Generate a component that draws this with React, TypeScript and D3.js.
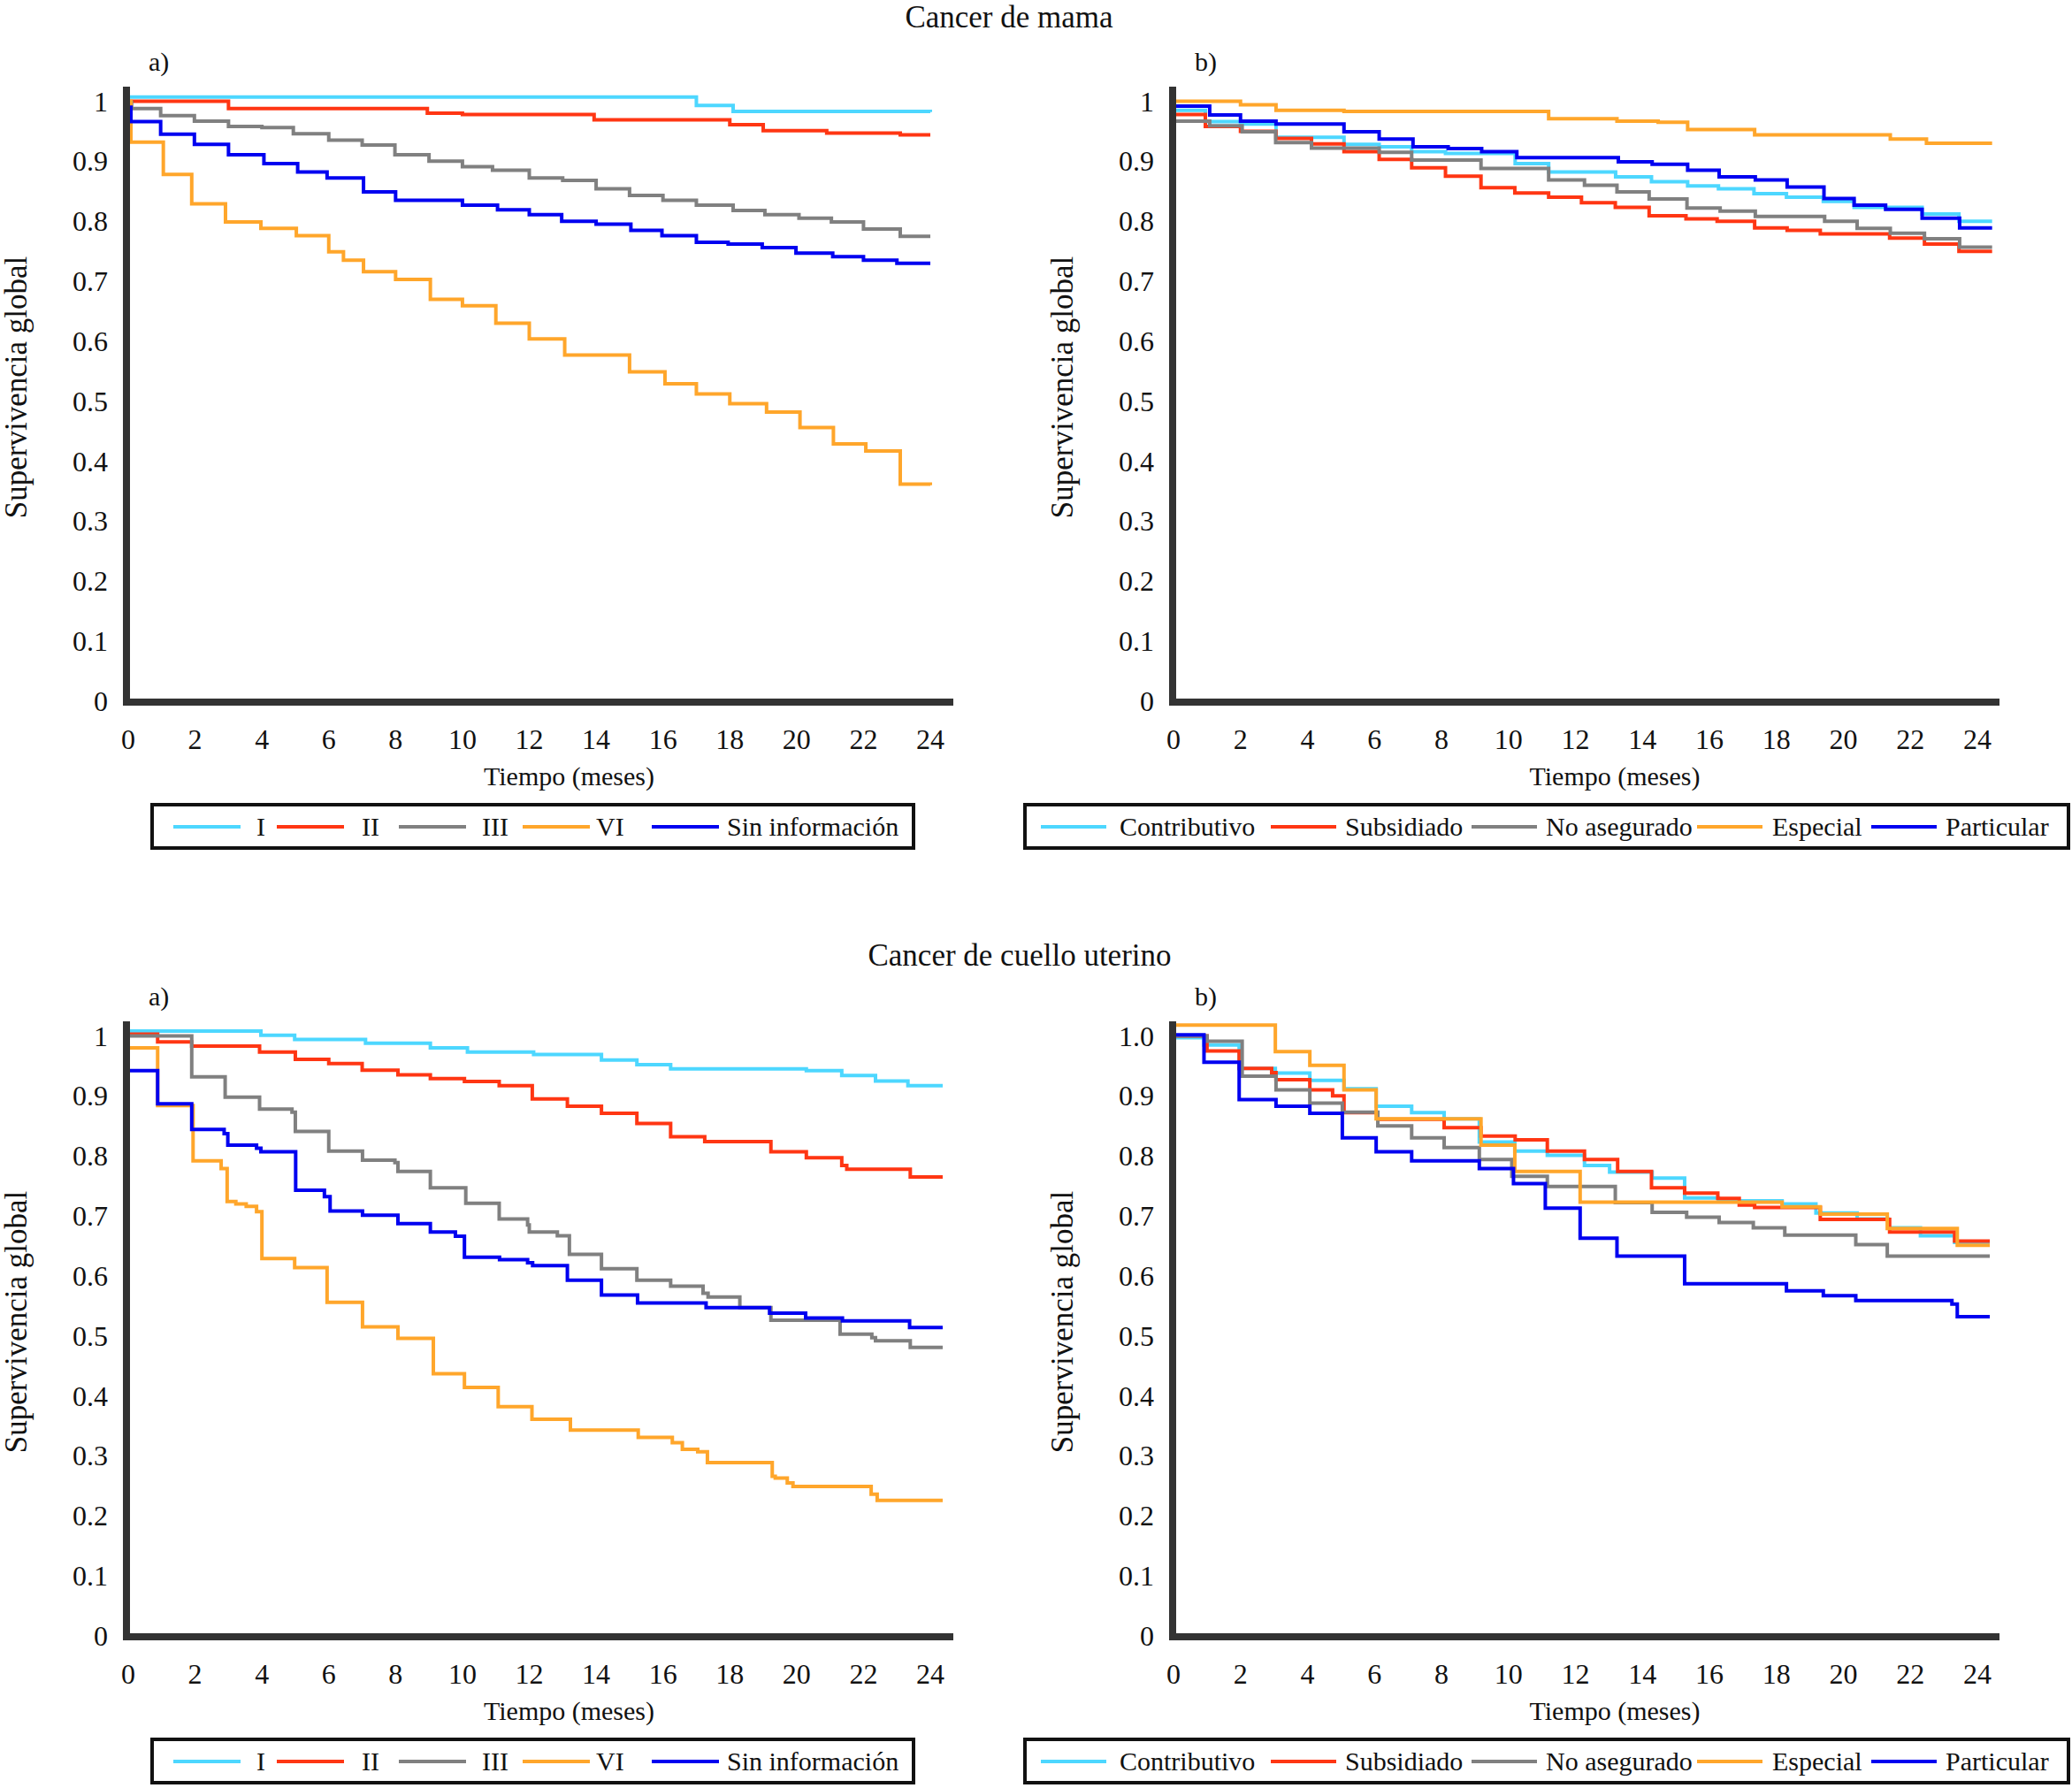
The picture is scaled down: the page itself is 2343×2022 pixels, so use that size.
import * as d3 from 'd3'

type Pt = [number, number]

// eje x (meses) y eje y (supervivencia)
const monthTicks = [0, 2, 4, 6, 8, 10, 12, 14, 16, 18, 20, 22, 24]
const survivalTicks = [0, 0.1, 0.2, 0.3, 0.4, 0.5, 0.6, 0.7, 0.8, 0.9, 1]
const survivalLabelsA = ['0', '0.1', '0.2', '0.3', '0.4', '0.5', '0.6', '0.7', '0.8', '0.9', '1']
const survivalLabelsB = ['0', '0.1', '0.2', '0.3', '0.4', '0.5', '0.6', '0.7', '0.8', '0.9', '1.0']

const estadioNames = ['I', 'II', 'III', 'VI', 'Sin información']
const regimenNames = ['Contributivo', 'Subsidiado', 'No asegurado', 'Especial', 'Particular']
const seriesColors = ['#4dd7ff', '#ff3613', '#808080', '#ffa62b', '#0000f0']

// Cancer de mama, a) estadio
const mamaI: Pt[] = [[0, 1.007], [17, 0.993], [18.1, 0.983], [24, 0.982]]
const mamaII: Pt[] = [[0, 1.0], [3, 0.988], [8.95, 0.98], [10, 0.978], [13.94, 0.969], [18, 0.961], [19, 0.951], [20.9, 0.947], [23.1, 0.944], [24, 0.944]]
const mamaIII: Pt[] = [[0, 0.998], [0.1, 0.988], [0.97, 0.976], [1.98, 0.967], [3, 0.958], [4, 0.956], [4.94, 0.946], [6, 0.935], [7, 0.927], [7.98, 0.911], [9, 0.9], [10, 0.891], [10.9, 0.885], [12, 0.872], [13, 0.868], [14, 0.854], [15, 0.843], [16, 0.835], [17, 0.827], [18.1, 0.818], [19.05, 0.811], [20.07, 0.805], [21.04, 0.799], [22, 0.787], [23.1, 0.775], [24, 0.775]]
const mamaVI: Pt[] = [[0, 1], [0.08, 0.932], [1.05, 0.878], [1.9, 0.829], [2.91, 0.799], [3.97, 0.788], [5.03, 0.776], [6, 0.749], [6.44, 0.735], [7.04, 0.716], [8, 0.703], [9.04, 0.67], [10, 0.659], [11, 0.63], [12, 0.604], [13.06, 0.577], [15, 0.549], [16.06, 0.529], [17, 0.512], [18, 0.496], [19.1, 0.482], [20.1, 0.456], [21.1, 0.429], [22.07, 0.417], [23.1, 0.362], [24, 0.36]]
const mamaSin: Pt[] = [[0, 0.99], [0.08, 0.966], [0.97, 0.945], [1.98, 0.928], [3, 0.911], [4.06, 0.896], [5.07, 0.882], [5.95, 0.872], [7.04, 0.849], [8, 0.835], [10, 0.827], [11.05, 0.819], [12, 0.811], [12.97, 0.8], [14, 0.795], [15.04, 0.785], [15.97, 0.776], [17, 0.765], [17.95, 0.762], [18.97, 0.756], [19.98, 0.747], [21.08, 0.741], [22, 0.735], [23, 0.73], [24, 0.73]]

// Cancer de mama, b) regimen
const mamaContrib: Pt[] = [[0, 0.985], [0.95, 0.966], [2, 0.962], [3.06, 0.94], [5.09, 0.928], [6.14, 0.924], [7.11, 0.916], [8.12, 0.913], [10.2, 0.896], [11.2, 0.882], [13.2, 0.874], [14.27, 0.866], [15.35, 0.859], [16.27, 0.854], [17.33, 0.846], [18.3, 0.84], [19.4, 0.833], [20.32, 0.823], [22.35, 0.812], [23.45, 0.8], [24.44, 0.8]]
const mamaSubs: Pt[] = [[0, 0.978], [0.95, 0.958], [2, 0.95], [3.06, 0.938], [4.12, 0.929], [5.09, 0.916], [6.14, 0.903], [7.11, 0.889], [8.12, 0.875], [9.18, 0.856], [10.19, 0.847], [11.2, 0.84], [12.18, 0.831], [13.19, 0.823], [14.2, 0.809], [15.3, 0.804], [16.23, 0.8], [17.35, 0.789], [18.32, 0.785], [19.31, 0.779], [21.38, 0.772], [22.42, 0.762], [23.45, 0.75], [24.44, 0.75]]
const mamaNoAseg: Pt[] = [[0, 0.967], [1.08, 0.959], [2.05, 0.949], [3.05, 0.931], [4.12, 0.922], [6.14, 0.915], [7.11, 0.902], [9.18, 0.888], [11.2, 0.869], [12.27, 0.86], [13.24, 0.849], [14.2, 0.837], [15.33, 0.822], [16.32, 0.817], [17.37, 0.808], [19.44, 0.8], [20.41, 0.788], [21.4, 0.78], [22.42, 0.771], [23.47, 0.757], [24.44, 0.757]]
const mamaEsp: Pt[] = [[0, 1.0], [2, 0.994], [3.06, 0.985], [5.09, 0.983], [11.2, 0.971], [13.24, 0.967], [14.47, 0.965], [15.35, 0.953], [17.35, 0.944], [21.4, 0.937], [22.48, 0.93], [24.44, 0.93]]
const mamaPart: Pt[] = [[0, 0.992], [1.08, 0.977], [2, 0.967], [3.06, 0.962], [5.09, 0.949], [6.14, 0.937], [7.15, 0.924], [8.2, 0.921], [9.2, 0.916], [10.25, 0.906], [13.28, 0.899], [14.29, 0.895], [15.35, 0.885], [16.29, 0.874], [17.37, 0.869], [18.32, 0.857], [19.42, 0.838], [20.32, 0.827], [21.26, 0.82], [22.35, 0.805], [23.47, 0.789], [24.44, 0.789]]

// Cancer de cuello uterino, a) estadio
const cuelloI: Pt[] = [[0, 1.008], [3.97, 1.001], [4.98, 0.994], [7.1, 0.988], [9.04, 0.98], [10.15, 0.973], [12.13, 0.969], [14.16, 0.96], [15.22, 0.952], [16.23, 0.945], [20.29, 0.942], [21.35, 0.934], [22.36, 0.925], [23.33, 0.917], [24.37, 0.917]]
const cuelloII: Pt[] = [[0, 1.003], [0.88, 0.99], [1.9, 0.983], [3.93, 0.973], [5, 0.961], [6, 0.954], [7, 0.943], [8.07, 0.935], [9.04, 0.929], [10.06, 0.924], [11.1, 0.917], [12.09, 0.895], [13.14, 0.883], [14.16, 0.871], [15.22, 0.854], [16.23, 0.832], [17.25, 0.824], [19.23, 0.807], [20.29, 0.797], [21.35, 0.784], [21.5, 0.778], [23.4, 0.765], [24.37, 0.765]]
const cuelloIII: Pt[] = [[0, 1.0], [1.9, 0.932], [2.9, 0.898], [3.93, 0.878], [4.9, 0.873], [5.0, 0.841], [6, 0.808], [7.01, 0.793], [7.98, 0.789], [8.07, 0.774], [9.04, 0.747], [10.1, 0.721], [11.1, 0.695], [11.95, 0.685], [12.0, 0.673], [12.84, 0.667], [13.2, 0.636], [14.16, 0.612], [15.22, 0.593], [16.23, 0.583], [17.2, 0.571], [17.35, 0.565], [18.3, 0.547], [19.23, 0.526], [21.3, 0.503], [22.25, 0.497], [22.36, 0.492], [23.4, 0.481], [24.37, 0.481]]
const cuelloVI: Pt[] = [[0, 0.98], [0.88, 0.884], [1.94, 0.792], [2.78, 0.779], [2.96, 0.724], [3.22, 0.72], [3.53, 0.716], [3.84, 0.707], [4.0, 0.629], [4.98, 0.614], [5.95, 0.556], [7.01, 0.515], [8.07, 0.496], [9.13, 0.437], [10.06, 0.414], [11.07, 0.382], [12.08, 0.361], [13.23, 0.343], [15.26, 0.331], [16.28, 0.322], [16.58, 0.311], [17.04, 0.307], [17.33, 0.289], [19.27, 0.266], [19.36, 0.263], [19.72, 0.255], [19.89, 0.249], [22.23, 0.236], [22.41, 0.226], [24.37, 0.226]]
const cuelloSin: Pt[] = [[0, 0.942], [0.88, 0.887], [1.9, 0.844], [2.87, 0.837], [2.98, 0.818], [3.84, 0.813], [3.97, 0.807], [5.01, 0.743], [5.87, 0.732], [6.04, 0.708], [7.01, 0.701], [8.07, 0.687], [9.04, 0.673], [9.79, 0.666], [10.06, 0.631], [11.11, 0.627], [11.95, 0.622], [12.1, 0.617], [13.14, 0.593], [14.16, 0.568], [15.24, 0.555], [17.29, 0.547], [19.19, 0.538], [20.27, 0.53], [21.37, 0.525], [23.38, 0.514], [24.37, 0.514]]

// Cancer de cuello uterino, b) regimen
const cuelloContrib: Pt[] = [[0, 0.997], [0.91, 0.985], [1.96, 0.946], [3.04, 0.938], [4.07, 0.926], [5.09, 0.912], [6.05, 0.883], [7.11, 0.872], [8.08, 0.862], [9.13, 0.823], [10.19, 0.808], [11.16, 0.801], [12.27, 0.784], [13.02, 0.773], [14.29, 0.763], [15.26, 0.73], [16.27, 0.725], [18.17, 0.72], [19.18, 0.705], [20.41, 0.695], [21.34, 0.68], [22.3, 0.667], [23.32, 0.656], [24.37, 0.656]]
const cuelloSubs: Pt[] = [[0, 1.0], [1.0, 0.975], [1.96, 0.946], [2.93, 0.939], [3.06, 0.927], [4.07, 0.91], [4.75, 0.9], [5.09, 0.872], [6.1, 0.861], [8.08, 0.847], [9.18, 0.833], [10.2, 0.827], [11.16, 0.808], [12.27, 0.794], [13.26, 0.774], [14.27, 0.747], [15.26, 0.738], [16.25, 0.729], [16.89, 0.718], [17.35, 0.714], [19.31, 0.694], [21.38, 0.673], [23.32, 0.658], [24.37, 0.658]]
const cuelloNoAseg: Pt[] = [[0, 1.0], [1.0, 0.991], [2.05, 0.933], [3.06, 0.91], [4.07, 0.888], [5.04, 0.873], [6.1, 0.85], [7.11, 0.83], [8.08, 0.814], [9.13, 0.794], [10.1, 0.766], [11.16, 0.749], [13.19, 0.722], [14.29, 0.706], [15.32, 0.698], [16.29, 0.689], [17.31, 0.68], [18.25, 0.668], [20.37, 0.652], [21.31, 0.633], [24.37, 0.633]]
const cuelloEsp: Pt[] = [[0, 1.018], [3.04, 0.974], [4.07, 0.951], [5.09, 0.91], [6.05, 0.862], [9.18, 0.818], [10.19, 0.774], [12.14, 0.723], [18.17, 0.715], [19.31, 0.703], [21.31, 0.679], [23.4, 0.651], [24.37, 0.651]]
const cuelloPart: Pt[] = [[0, 1.002], [0.91, 0.956], [1.96, 0.894], [3.06, 0.883], [4.07, 0.871], [5.04, 0.83], [6.05, 0.807], [7.11, 0.792], [9.13, 0.779], [10.15, 0.754], [11.1, 0.713], [12.14, 0.663], [13.24, 0.633], [15.26, 0.587], [18.3, 0.575], [19.4, 0.567], [20.37, 0.559], [23.24, 0.553], [23.4, 0.532], [24.37, 0.532]]

const FONT = '"Liberation Serif", "Times New Roman", serif'

// posiciones de la leyenda: [inicio de linea, inicio de texto]
const legendLeft = { box: [172, 1033], items: [[196, 290], [313, 409], [451, 545], [591, 674], [737, 822]], len: 76 }
const legendRight = { box: [1159, 2339], items: [[1177, 1266], [1437, 1521], [1664, 1748], [1919, 2004], [2116, 2200]], len: 74 }

const leftGeom = { axisX: 143, x0: 145, x24: 1052, axisEnd: 1078, tag: 168, yTitleX: 30, legend: legendLeft }
const rightGeom = { axisX: 1326, x0: 1327, x24: 2236, axisEnd: 2261, tag: 1351, yTitleX: 1213, legend: legendRight }

const panels = [
  { key: 'ma', tag: 'a)', g: leftGeom, dy: 0, names: estadioNames, series: [mamaI, mamaII, mamaIII, mamaVI, mamaSin], yLabels: survivalLabelsA },
  { key: 'mb', tag: 'b)', g: rightGeom, dy: 0, names: regimenNames, series: [mamaContrib, mamaSubs, mamaNoAseg, mamaEsp, mamaPart], yLabels: survivalLabelsA },
  { key: 'ca', tag: 'a)', g: leftGeom, dy: 1057, names: estadioNames, series: [cuelloI, cuelloII, cuelloIII, cuelloVI, cuelloSin], yLabels: survivalLabelsA },
  { key: 'cb', tag: 'b)', g: rightGeom, dy: 1057, names: regimenNames, series: [cuelloContrib, cuelloSubs, cuelloNoAseg, cuelloEsp, cuelloPart], yLabels: survivalLabelsB },
]

function Panel({ p }: { p: (typeof panels)[number] }) {
  const { g, dy } = p
  const x = d3.scaleLinear().domain([0, 24]).range([g.x0, g.x24])
  const y = d3.scaleLinear().domain([0, 1]).range([dy + 793, dy + 114.5])
  const line = d3
    .line<Pt>()
    .x((d) => x(d[0]))
    .y((d) => y(d[1]))
    .curve(d3.curveStepAfter)
  const axisY = y(0) + 1
  const lg = g.legend
  const legTop = dy + 910
  return (
    <g>
      <text x={g.tag} y={dy + 80} fontSize={30}>{p.tag}</text>
      {p.series.map((s, i) => (
        <path key={i} d={line(s) || ''} fill="none" stroke={seriesColors[i]} strokeWidth={4} strokeLinejoin="miter" />
      ))}
      <line x1={g.axisX} x2={g.axisX} y1={dy + 98} y2={axisY + 4} stroke="#333" strokeWidth={8} />
      <line x1={g.axisX - 4} x2={g.axisEnd} y1={axisY} y2={axisY} stroke="#333" strokeWidth={8} />
      {survivalTicks.map((t, i) => (
        <text key={t} x={g.axisX - 21} y={y(t) + 11} fontSize={32} textAnchor="end">{p.yLabels[i]}</text>
      ))}
      {monthTicks.map((t) => (
        <text key={t} x={x(t)} y={dy + 847} fontSize={32} textAnchor="middle">{t}</text>
      ))}
      <text x={(g.x0 + g.axisEnd) / 2 + 32} y={dy + 888} fontSize={30} textAnchor="middle">Tiempo (meses)</text>
      <text transform={`translate(${g.yTitleX},${dy + 438}) rotate(-90)`} fontSize={35} textAnchor="middle">Supervivencia global</text>
      <rect x={lg.box[0]} y={legTop} width={lg.box[1] - lg.box[0]} height={49} fill="none" stroke="#111" strokeWidth={4} />
      {p.names.map((n, i) => (
        <g key={n}>
          <line x1={lg.items[i][0]} x2={lg.items[i][0] + lg.len} y1={legTop + 25} y2={legTop + 25} stroke={seriesColors[i]} strokeWidth={4} />
          <text x={lg.items[i][1]} y={legTop + 35} fontSize={30}>{n}</text>
        </g>
      ))}
    </g>
  )
}

export default function App() {
  return (
    <svg
      width={2343}
      height={2022}
      viewBox="0 0 2343 2022"
      style={{ position: 'absolute', left: 0, top: 0, display: 'block', background: '#fff' }}
      fontFamily={FONT}
      fill="#111"
    >
      <rect width={2343} height={2022} fill="#fff" />
      <text x={1141} y={31} fontSize={35} textAnchor="middle">Cancer de mama</text>
      <text x={1153} y={1092} fontSize={35} textAnchor="middle">Cancer de cuello uterino</text>
      {panels.map((p) => (
        <Panel key={p.key} p={p} />
      ))}
    </svg>
  )
}
